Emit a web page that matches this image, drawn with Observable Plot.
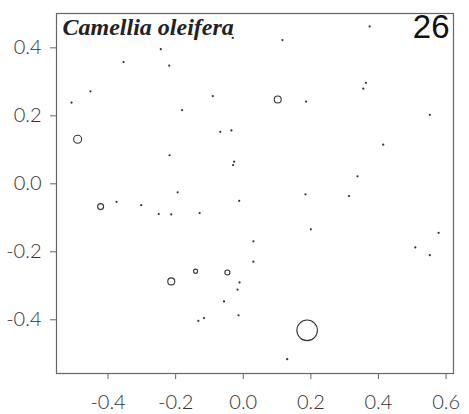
<!DOCTYPE html>
<html>
<head>
<meta charset="utf-8">
<script src="https://cdn.jsdelivr.net/npm/d3@7"></script>
<script src="https://cdn.jsdelivr.net/npm/@observablehq/plot@0.6"></script>
<style>
  html, body { margin: 0; padding: 0; background: #fff; }
</style>
</head>
<body>
<div id="chart"></div>
<script>
// Ordination scores (axis 1, axis 2) and abundance per site
const axis1 = [-0.031,-0.244,-0.354,-0.219,-0.452,-0.508,-0.090,-0.181,-0.490,-0.068,
               -0.035,-0.218,-0.027,-0.030, 0.374, 0.116, 0.363, 0.355, 0.102, 0.186,
                0.552, 0.414, 0.338,-0.194,-0.422,-0.375,-0.302,-0.250,-0.213,-0.129,
               -0.012, 0.030, 0.030,-0.141,-0.047,-0.213,-0.011,-0.017,-0.057,-0.116,
               -0.133,-0.014, 0.184, 0.313, 0.200, 0.578, 0.509, 0.552, 0.189, 0.130];
const axis2 = [ 0.429, 0.396, 0.358, 0.348, 0.272, 0.239, 0.258, 0.217, 0.131, 0.153,
                0.157, 0.084, 0.065, 0.055, 0.463, 0.423, 0.297, 0.280, 0.248, 0.242,
                0.203, 0.115, 0.022,-0.025,-0.067,-0.053,-0.063,-0.089,-0.090,-0.086,
               -0.050,-0.169,-0.229,-0.257,-0.261,-0.287,-0.290,-0.311,-0.346,-0.395,
               -0.403,-0.387,-0.031,-0.036,-0.134,-0.144,-0.187,-0.210,-0.431,-0.516];
const abundance = [0.3,0.3,0.3,0.3,0.3,0.3,0.3,0.3,15,0.3,
                   0.3,0.3,0.3,0.3,0.3,0.3,0.3,0.3,11.5,0.3,
                   0.3,0.3,0.3,0.3,8.5,0.3,0.3,0.3,0.3,0.3,
                   0.3,0.3,0.3,3.8,5.9,11.5,0.3,0.3,0.3,0.3,
                   0.3,0.3,0.3,0.3,0.3,0.3,0.3,0.3,100,0.3];
const xTicks = [-0.4, -0.2, 0.0, 0.2, 0.4, 0.6];
const yTicks = [-0.4, -0.2, 0.0, 0.2, 0.4];
const speciesName = "Camellia oleifera";
const panelNumber = "26";

const sites = axis1.map((x, i) => ({x, y: axis2[i], a: abundance[i]}));

const chart = Plot.plot({
  width: 469,
  height: 414,
  marginLeft: 56,
  marginRight: 16,
  marginTop: 13,
  marginBottom: 41,
  style: {fontFamily: "Lato, sans-serif", fontSize: "20px", color: "#333", background: "#fff"},
  x: {domain: [-0.5525, 0.622]},
  y: {domain: [-0.558, 0.501]},
  r: {type: "sqrt", domain: [0, 100], range: [0, 10.3]},
  marks: [
    Plot.frame({stroke: "#666", strokeWidth: 1.2}),
    Plot.axisX({ticks: xTicks, tickFormat: d => d.toFixed(1), tickSize: 6, tickPadding: 15,
                fontSize: 20, fontWeight: 300, stroke: "#666", fill: "#333", label: null}),
    Plot.axisY({ticks: yTicks, tickFormat: d => d.toFixed(1), tickSize: 6, tickPadding: 9,
                fontSize: 20, fontWeight: 300, stroke: "#666", fill: "#333", label: null}),
    Plot.dot(sites, {x: "x", y: "y", r: "a", stroke: "#333", strokeWidth: 1.1, fill: "none"}),
    Plot.text([speciesName], {frameAnchor: "top-left", dx: 6, dy: 4, text: d => d,
      fontFamily: "Liberation Serif, serif", fontStyle: "italic", fontWeight: "bold",
      fontSize: 24, fill: "#222", lineAnchor: "top"}),
    Plot.text([panelNumber], {frameAnchor: "top-right", dx: -4, dy: 1, text: d => d,
      fontFamily: "Liberation Sans, Arial, sans-serif", fontSize: 33, fill: "#111", lineAnchor: "top"})
  ]
});
document.getElementById("chart").appendChild(chart);
</script>
</body>
</html>
